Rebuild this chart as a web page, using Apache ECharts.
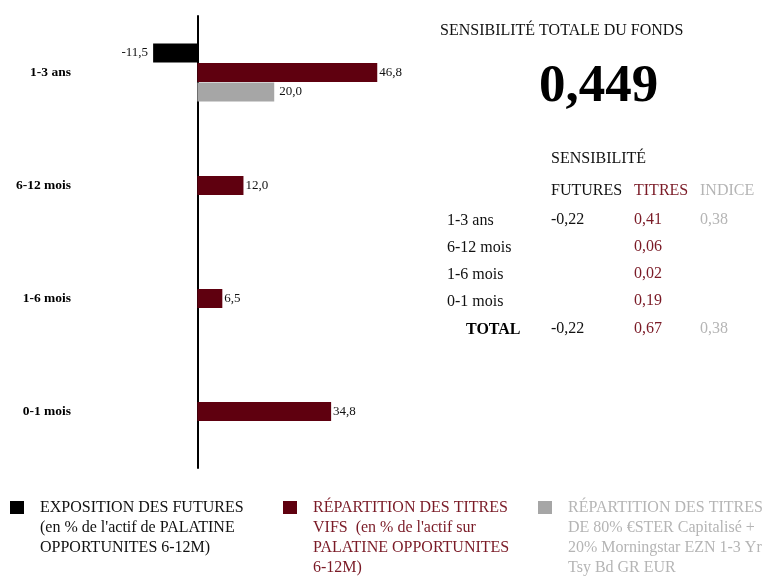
<!DOCTYPE html>
<html>
<head>
<meta charset="utf-8">
<script src="https://cdn.jsdelivr.net/npm/echarts@6/dist/echarts.min.js"></script>
<style>
  html, body { margin: 0; padding: 0; background: #fff; }
  #chart { width: 764px; height: 576px; }
</style>
</head>
<body>
<div id="chart"></div>
<script>
const categories = ['1-3 ans', '6-12 mois', '1-6 mois', '0-1 mois']
const futures = [-11.5, null, null, null]
const titres = [46.8, 12.0, 6.5, 34.8]
const indice = [20.0, null, null, null]

const seriesNames = ['Futures', 'Titres', 'Indice']
const legendTexts = [
  "EXPOSITION DES FUTURES\n(en % de l'actif de PALATINE\nOPPORTUNITES 6-12M)",
  "RÉPARTITION DES TITRES\nVIFS  (en % de l'actif sur\nPALATINE OPPORTUNITES\n6-12M)",
  'RÉPARTITION DES TITRES\nDE 80% €STER Capitalisé +\n20% Morningstar EZN 1-3 Yr\nTsy Bd GR EUR'
]

const totalTitle = 'SENSIBILITÉ TOTALE DU FONDS'
const totalValue = 0.449
const sensHeader = 'SENSIBILITÉ'
const sensColumns = ['FUTURES', 'TITRES', 'INDICE']
const sensRows = ['1-3 ans', '6-12 mois', '1-6 mois', '0-1 mois']
const sensFutures = [-0.22, null, null, null]
const sensTitres = [0.41, 0.06, 0.02, 0.19]
const sensIndice = [0.38, null, null, null]
const sensTotals = [-0.22, 0.67, 0.38]

const colors = ['#000000', '#5f000f', '#a6a6a6']
const textColors = ['#111111', '#7a1a26', '#b5b5b5']
const font = 'Liberation Serif'

const fmt = (v, d) => v.toFixed(d).replace('.', ',')

const chart = echarts.init(document.getElementById('chart'))

// one legend per series so each sits at its own x; the text is centred on
// the icon, so empty lines are put in front to bring the first line level with it
const legendLeft = [10, 283, 538]
const legends = seriesNames.map((name, i) => {
  const lines = legendTexts[i].split('\n').length
  const lh = 20
  const iconH = 13
  const boxTop = iconH / 2 - ((2 * lines - 1) * lh) / 2
  const text = '\n'.repeat(lines - 1) + legendTexts[i]
  return {
    left: legendLeft[i],
    top: 501 + boxTop,
    padding: 0,
    selectedMode: false,
    itemWidth: 14,
    itemHeight: iconH,
    icon: 'rect',
    data: [{
      name,
      textStyle: {
        color: textColors[i],
        fontFamily: font,
        fontSize: 16,
        lineHeight: lh,
        padding: [0, 0, 0, 11]
      }
    }],
    formatter: () => text
  }
})

// right-hand sensitivity block
const colX = [551, 634, 700]
const rowY = [222, 249, 276, 303]
const graphics = [
  { type: 'text', left: 440, top: 23, style: { text: totalTitle, font: `16px "${font}"`, fill: '#111' } },
  { type: 'text', left: 539, top: 61, style: { text: fmt(totalValue, 3), font: `bold 53px "${font}"`, fill: '#000' } },
  { type: 'text', left: 551, top: 151, style: { text: sensHeader, font: `16px "${font}"`, fill: '#111' } }
]
sensColumns.forEach((c, i) => {
  graphics.push({ type: 'text', left: colX[i], top: 183, style: { text: c, font: `16px "${font}"`, fill: textColors[i] } })
})
const colData = [sensFutures, sensTitres, sensIndice]
sensRows.forEach((r, j) => {
  graphics.push({ type: 'text', left: 447, top: rowY[j] - 9, style: { text: r, font: `16px "${font}"`, fill: '#111' } })
  colData.forEach((col, i) => {
    if (col[j] == null) return
    graphics.push({ type: 'text', left: colX[i], top: rowY[j] - 10, style: { text: fmt(col[j], 2), font: `16px "${font}"`, fill: textColors[i] } })
  })
})
graphics.push({ type: 'text', left: 466, top: 322, style: { text: 'TOTAL', font: `bold 16px "${font}"`, fill: '#000' } })
sensTotals.forEach((v, i) => {
  graphics.push({ type: 'text', left: colX[i], top: 321, style: { text: fmt(v, 2), font: `16px "${font}"`, fill: textColors[i] } })
})

const labelStyle = (position, distance) => ({
  show: true,
  position,
  distance,
  color: '#111',
  fontFamily: font,
  fontSize: 13,
  formatter: (p) => fmt(p.value, 1)
})

const options = {
  animation: false,
  textStyle: { fontFamily: font },
  legend: legends,
  graphic: graphics,
  grid: {
    left: 82,
    width: 346,
    top: 16,
    bottom: 108,
    containLabel: false,
    outerBoundsMode: 'none'
  },
  xAxis: {
    type: 'value',
    min: -30,
    max: 60,
    show: false
  },
  yAxis: {
    type: 'category',
    inverse: true,
    data: categories,
    axisTick: { show: false },
    axisLine: {
      onZero: true,
      lineStyle: { color: '#000', width: 2 }
    },
    axisLabel: {
      margin: 11,
      color: '#000',
      fontWeight: 'bold',
      fontSize: 13.5,
      fontFamily: font
    }
  },
  series: [{
    name: seriesNames[0],
    type: 'bar',
    barWidth: 19,
    barGap: '3%',
    itemStyle: { color: colors[0] },
    label: labelStyle('left', 5),
    data: futures
  }, {
    name: seriesNames[1],
    type: 'bar',
    barWidth: 19,
    barGap: '3%',
    itemStyle: { color: colors[1] },
    label: labelStyle('right', 2),
    data: titres
  }, {
    name: seriesNames[2],
    type: 'bar',
    barWidth: 19,
    barGap: '3%',
    itemStyle: { color: colors[2] },
    label: labelStyle('right', 5),
    data: indice
  }]
}
chart.setOption(options)
</script>
</body>
</html>
